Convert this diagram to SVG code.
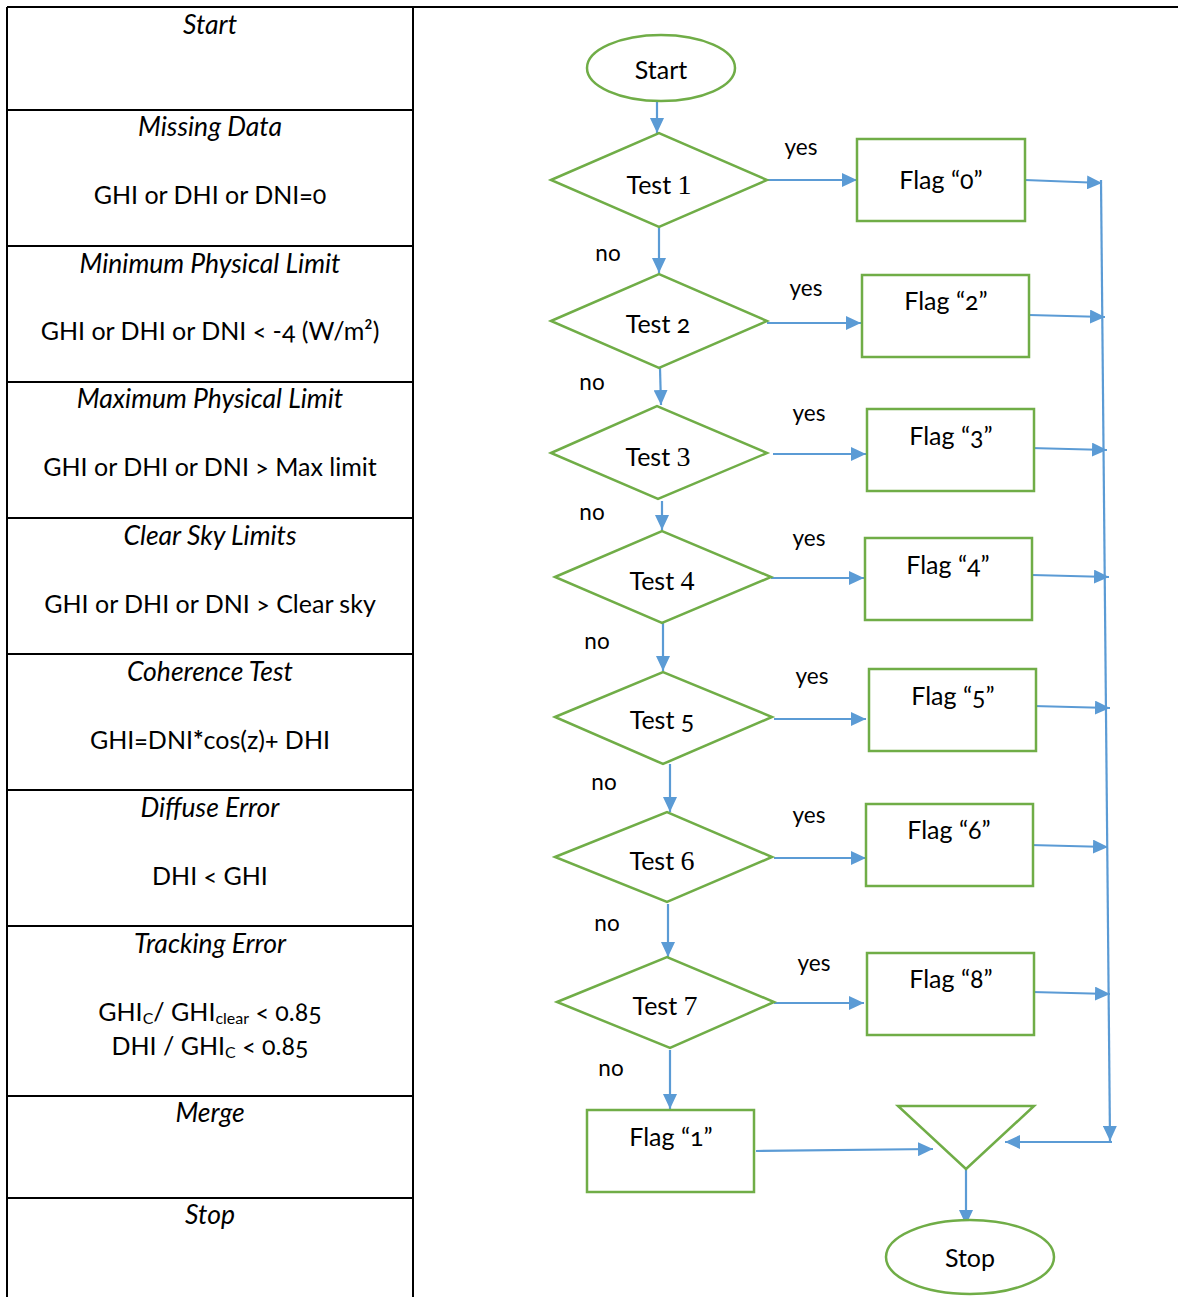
<svg xmlns="http://www.w3.org/2000/svg" width="1178" height="1297" viewBox="0 0 1178 1297">
<style>
text{font-family:Lato,"Open Sans","Noto Sans",sans-serif;fill:#000;font-variant-numeric:oldstyle-nums}
.t{font-size:25px;text-anchor:middle}
.i{font-style:italic;font-size:26.5px}
.lbl{font-size:22.5px;text-anchor:middle}
.n{font-size:25px;text-anchor:middle}
.tbl{stroke:#000;stroke-width:2;fill:none}
.g{fill:#fff;stroke:#70AD47;stroke-width:2.5}
.c{stroke:#5B9BD5;stroke-width:2.2;fill:none}
.a{marker-end:url(#ah)}
.m{font-family:"Liberation Serif",serif;font-variant-numeric:normal}
</style>
<defs>
<marker id="ah" markerUnits="userSpaceOnUse" markerWidth="15" markerHeight="14" refX="15" refY="7" orient="auto">
<path d="M0,0 L15,7 L0,14 z" fill="#5B9BD5"/>
</marker>
</defs>
<rect width="1178" height="1297" fill="#fff"/>
<g id="table">
<path class="tbl" d="M7,7 H1178 M7,7 V1297 M413,7 V1297 M7,110 H413 M7,246 H413 M7,382 H413 M7,518 H413 M7,654 H413 M7,790 H413 M7,926 H413 M7,1096 H413 M7,1198 H413"/>
<text class="t i" x="210" y="34">Start</text>
<text class="t i" x="210" y="136">Missing Data</text>
<text class="t" x="210" y="204">GHI or DHI or DNI=0</text>
<text class="t i" x="210" y="273">Minimum Physical Limit</text>
<text class="t" x="210" y="340">GHI or DHI or DNI &lt; -4 (W/m²)</text>
<text class="t i" x="210" y="408">Maximum Physical Limit</text>
<text class="t" x="210" y="476">GHI or DHI or DNI &gt; Max limit</text>
<text class="t i" x="210" y="545">Clear Sky Limits</text>
<text class="t" x="210" y="613">GHI or DHI or DNI &gt; Clear sky</text>
<text class="t i" x="210" y="681">Coherence Test</text>
<text class="t" x="210" y="749">GHI=DNI<tspan font-weight="bold">*</tspan>cos(z)+ DHI</text>
<text class="t i" x="210" y="817">Diffuse Error</text>
<text class="t" x="210" y="885">DHI &lt; GHI</text>
<text class="t i" x="210" y="953">Tracking Error</text>
<text class="t" x="210" y="1021">GHI<tspan font-size="16" dy="3">C</tspan><tspan dy="-3">/ GHI</tspan><tspan font-size="16" dy="3">clear</tspan><tspan dy="-3"> &lt; 0.85</tspan></text>
<text class="t" x="210" y="1055">DHI / GHI<tspan font-size="16" dy="3">C</tspan><tspan dy="-3"> &lt; 0.85</tspan></text>
<text class="t i" x="210" y="1122">Merge</text>
<text class="t i" x="210" y="1224">Stop</text>
</g>
<g id="connectors">
<path class="c a" d="M657,101 V133"/>
<path class="c a" d="M767,180 H857"/>
<path class="c a" d="M1025,180 L1102,183"/>
<path class="c a" d="M659,227 V273"/>
<path class="c a" d="M767,323 H861"/>
<path class="c a" d="M1029,315 L1105,317"/>
<path class="c a" d="M660,368 L661,405"/>
<path class="c a" d="M773,454 H866"/>
<path class="c a" d="M1030,448 L1107,450"/>
<path class="c a" d="M662,501 V530"/>
<path class="c a" d="M771,578 H864"/>
<path class="c a" d="M1032,575 L1109,577"/>
<path class="c a" d="M663,623 V671"/>
<path class="c a" d="M774,719 H866"/>
<path class="c a" d="M1033,706 L1110,708"/>
<path class="c a" d="M670,764 V812"/>
<path class="c a" d="M774,858 H866"/>
<path class="c a" d="M1030,845 L1108,847"/>
<path class="c a" d="M668,904 V957"/>
<path class="c a" d="M774,1003 H864"/>
<path class="c a" d="M1032,992 L1110,994"/>
<path class="c a" d="M670,1050 V1109"/>
<path class="c a" d="M756,1151 L933,1149"/>
<path class="c a" d="M1101,180 L1110,1141"/>
<path class="c a" d="M1112,1142 H1005"/>
<path class="c a" d="M966,1169 V1225"/>
<text class="lbl" x="801" y="155">yes</text>
<text class="lbl" x="608" y="261">no</text>
<text class="lbl" x="806" y="296">yes</text>
<text class="lbl" x="592" y="390">no</text>
<text class="lbl" x="809" y="421">yes</text>
<text class="lbl" x="592" y="520">no</text>
<text class="lbl" x="809" y="546">yes</text>
<text class="lbl" x="597" y="649">no</text>
<text class="lbl" x="812" y="684">yes</text>
<text class="lbl" x="604" y="790">no</text>
<text class="lbl" x="809" y="823">yes</text>
<text class="lbl" x="607" y="931">no</text>
<text class="lbl" x="814" y="971">yes</text>
<text class="lbl" x="611" y="1076">no</text>
</g>
<g id="start">
<ellipse class="g" cx="661" cy="68" rx="74" ry="33"/>
<text class="n" x="661" y="79">Start</text>
</g>
<g id="test1">
<polygon class="g" points="551,180 659,133 767,180 659,227"/>
<text class="n" x="659" y="194">Test <tspan class="m" font-size="28">1</tspan></text>
</g>
<g id="flag0">
<rect class="g" x="857" y="139" width="168" height="82"/>
<text class="n" x="941" y="189">Flag “0”</text>
</g>
<g id="test2">
<polygon class="g" points="551,321 659,274 767,321 659,368"/>
<text class="n" x="658" y="333">Test 2</text>
</g>
<g id="flag2">
<rect class="g" x="862" y="275" width="167" height="82"/>
<text class="n" x="946" y="310">Flag “2”</text>
</g>
<g id="test3">
<polygon class="g" points="551,453 657,406 767,453 658,499"/>
<text class="n" x="658" y="466">Test <tspan class="m" font-size="28">3</tspan></text>
</g>
<g id="flag3">
<rect class="g" x="867" y="409" width="167" height="82"/>
<text class="n" x="951" y="445">Flag “3”</text>
</g>
<g id="test4">
<polygon class="g" points="555,577 662,531 771,577 662,623"/>
<text class="n" x="662" y="590">Test <tspan class="m" font-size="28">4</tspan></text>
</g>
<g id="flag4">
<rect class="g" x="865" y="538" width="167" height="82"/>
<text class="n" x="948" y="574">Flag “4”</text>
</g>
<g id="test5">
<polygon class="g" points="555,717 663,672 772,717 663,764"/>
<text class="n" x="662" y="729">Test 5</text>
</g>
<g id="flag5">
<rect class="g" x="869" y="669" width="167" height="82"/>
<text class="n" x="953" y="705">Flag “5”</text>
</g>
<g id="test6">
<polygon class="g" points="555,857 667,812 772,857 667,902"/>
<text class="n" x="662" y="870">Test <tspan class="m" font-size="28">6</tspan></text>
</g>
<g id="flag6">
<rect class="g" x="866" y="804" width="167" height="82"/>
<text class="n" x="949" y="839">Flag “6”</text>
</g>
<g id="test7">
<polygon class="g" points="557,1002 667,957 774,1002 670,1048"/>
<text class="n" x="665" y="1015">Test <tspan class="m" font-size="28">7</tspan></text>
</g>
<g id="flag8">
<rect class="g" x="867" y="953" width="167" height="82"/>
<text class="n" x="951" y="988">Flag “8”</text>
</g>
<g id="flag1">
<rect class="g" x="587" y="1110" width="167" height="82"/>
<text class="n" x="671" y="1146">Flag “1”</text>
</g>
<g id="merge">
<polygon class="g" points="898,1106 1034,1106 966,1169"/>
</g>
<g id="stop">
<ellipse class="g" cx="970" cy="1257" rx="84" ry="37"/>
<text class="n" x="970" y="1267">Stop</text>
</g>
</svg>
